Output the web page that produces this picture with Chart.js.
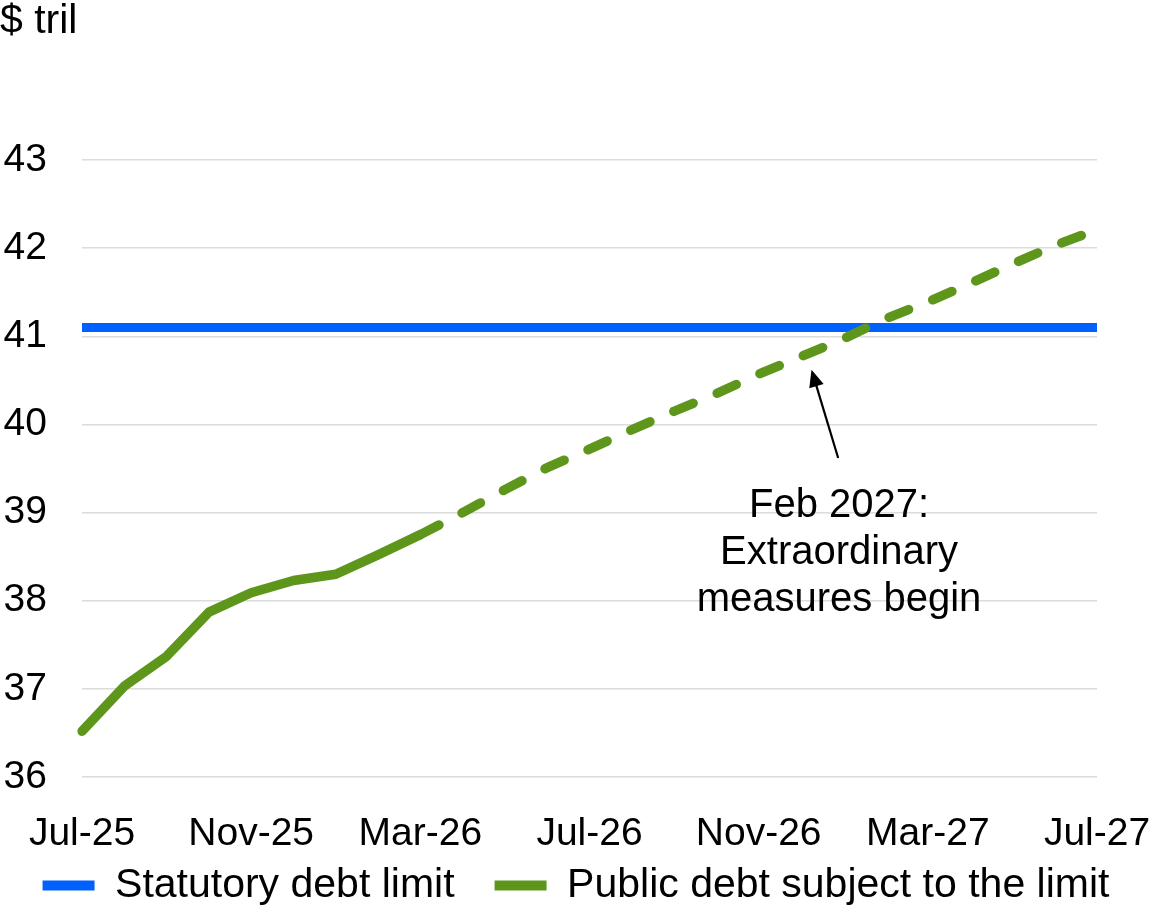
<!DOCTYPE html>
<html>
<head>
<meta charset="utf-8">
<title>Debt limit projection</title>
<script src="https://cdn.jsdelivr.net/npm/chart.js@4.4.1/dist/chart.umd.min.js"></script>
<style>
    html, body { margin: 0; padding: 0; background: #fff; }
    #wrap { width: 1152px; height: 907px; }
</style>
</head>
<body>
<div id="wrap"><canvas id="debtChart" width="1152" height="907"></canvas></div>
<script>
const FONT = '"Liberation Sans", Arial, Helvetica, sans-serif';

// Monthly categories, Jul-25 .. Jul-27
const months = [
    'Jul-25', 'Aug-25', 'Sep-25', 'Oct-25', 'Nov-25', 'Dec-25',
    'Jan-26', 'Feb-26', 'Mar-26', 'Apr-26', 'May-26', 'Jun-26',
    'Jul-26', 'Aug-26', 'Sep-26', 'Oct-26', 'Nov-26', 'Dec-26',
    'Jan-27', 'Feb-27', 'Mar-27', 'Apr-27', 'May-27', 'Jun-27',
    'Jul-27'
];

// $ trillions
const debtLimit = [
    41.1, 41.1, 41.1, 41.1, 41.1, 41.1, 41.1, 41.1, 41.1, 41.1, 41.1, 41.1, 41.1,
    41.1, 41.1, 41.1, 41.1, 41.1, 41.1, 41.1, 41.1, 41.1, 41.1, 41.1, 41.1
];
const publicDebt = [
    36.52, 37.03, 37.37, 37.87, 38.09, 38.23, 38.30, 38.52, 38.75,
    39.00, 39.26, 39.51, 39.72, 39.94, 40.15, 40.35, 40.57, 40.77,
    40.97, 41.20, 41.39, 41.60, 41.82, 42.03, 42.21
];

// Last month of actuals; everything after it is a projection (dashed)
const lastActual = 8;

const yTicks = { min: 36, max: 43, step: 1 };

// Callout: arrow and text anchored in data units (category index, $ tril)
const noteLines = ['Feb 2027:', 'Extraordinary', 'measures begin'];
const noteText = { x: 17.9, y: 38.95 };
const arrowTail = { x: 17.88, y: 39.62 };
const arrowTip = { x: 17.25, y: 40.62 };

const BLUE = '#0061fe';
const GREEN = '#5e961c';

const calloutPlugin = {
    id: 'callout',
    afterDatasetsDraw(chart) {
        const { ctx, scales: { x, y } } = chart;
        const tx = x.getPixelForValue(arrowTail.x), ty = y.getPixelForValue(arrowTail.y);
        const hx = x.getPixelForValue(arrowTip.x), hy = y.getPixelForValue(arrowTip.y);
        const ang = Math.atan2(hy - ty, hx - tx);
        const headLen = 17, headW = 7.5;

        ctx.save();
        ctx.strokeStyle = '#000';
        ctx.fillStyle = '#000';
        ctx.lineWidth = 2.2;
        ctx.beginPath();
        ctx.moveTo(tx, ty);
        ctx.lineTo(hx - Math.cos(ang) * (headLen - 2), hy - Math.sin(ang) * (headLen - 2));
        ctx.stroke();

        const bx = hx - Math.cos(ang) * headLen, by = hy - Math.sin(ang) * headLen;
        ctx.beginPath();
        ctx.moveTo(hx, hy);
        ctx.lineTo(bx + Math.sin(ang) * headW, by - Math.cos(ang) * headW);
        ctx.lineTo(bx - Math.sin(ang) * headW, by + Math.cos(ang) * headW);
        ctx.closePath();
        ctx.fill();

        ctx.font = '40px ' + FONT;
        ctx.textAlign = 'center';
        ctx.textBaseline = 'alphabetic';
        const cx = x.getPixelForValue(noteText.x);
        const cy = y.getPixelForValue(noteText.y);
        noteLines.forEach((line, i) => ctx.fillText(line, cx, cy + i * 47));
        ctx.restore();
    }
};

// The x axis box is kept short so the plot bottom sits where it should;
// let its labels draw past that box instead of being clipped to it.
const unclipXLabels = {
    id: 'unclipXLabels',
    afterLayout(chart) {
        chart.scales.x.bottom = chart.height;
    }
};

const chart = new Chart(document.getElementById('debtChart'), {
    type: 'line',
    data: {
        labels: months,
        datasets: [{
            label: 'Statutory debt limit',
            data: debtLimit,
            borderColor: BLUE,
            backgroundColor: BLUE,
            borderWidth: 9,
            pointRadius: 0,
            order: 2
        }, {
            label: 'Public debt subject to the limit',
            data: publicDebt,
            borderColor: GREEN,
            backgroundColor: GREEN,
            borderWidth: 9.5,
            borderCapStyle: 'round',
            borderJoinStyle: 'round',
            pointRadius: 0,
            order: 1,
            segment: {
                borderCapStyle: 'round',
                borderDash: c => c.p0DataIndex >= lastActual ? [21, 26] : undefined
            }
        }]
    },
    options: {
        responsive: false,
        animation: false,
        layout: { padding: { left: 0, right: 0, top: 0, bottom: -9 } },
        scales: {
            x: {
                offset: false,
                grid: { display: false },
                border: { display: false },
                ticks: {
                    autoSkip: false,
                    maxRotation: 0,
                    padding: 26,
                    color: '#000',
                    font: { family: FONT, size: 39 },
                    callback: (v, i) => (i % 4 === 0 ? months[i] : '')
                },
                afterFit: s => {
                    s.height = 48;
                    s.paddingLeft = 0;
                    s.paddingRight = 55;
                }
            },
            y: {
                min: yTicks.min,
                max: yTicks.max,
                grid: { color: '#dcdcdc', lineWidth: 1.5, drawTicks: false },
                border: { display: false },
                ticks: {
                    stepSize: yTicks.step,
                    padding: 35,
                    color: '#000',
                    font: { family: FONT, size: 39 }
                },
                afterFit: s => { s.width = 82; }
            }
        },
        plugins: {
            title: {
                display: true,
                text: '$ tril',
                align: 'start',
                color: '#000',
                font: { family: FONT, size: 41, weight: 'normal', lineHeight: 1.05 },
                padding: { top: 0, bottom: 117 }
            },
            legend: {
                position: 'bottom',
                labels: {
                    color: '#000',
                    font: { family: FONT, size: 41 },
                    boxWidth: 52,
                    boxHeight: 10,
                    useBorderRadius: true,
                    borderRadius: 5,
                    padding: 40,
                    generateLabels: ch => ch.data.datasets.map((ds, i) => ({
                        text: ds.label,
                        fillStyle: ds.borderColor,
                        strokeStyle: ds.borderColor,
                        lineWidth: 0,
                        hidden: false,
                        datasetIndex: i
                    }))
                }
            },
            tooltip: { enabled: false }
        }
    },
    plugins: [calloutPlugin, unclipXLabels]
});
</script>
</body>
</html>
